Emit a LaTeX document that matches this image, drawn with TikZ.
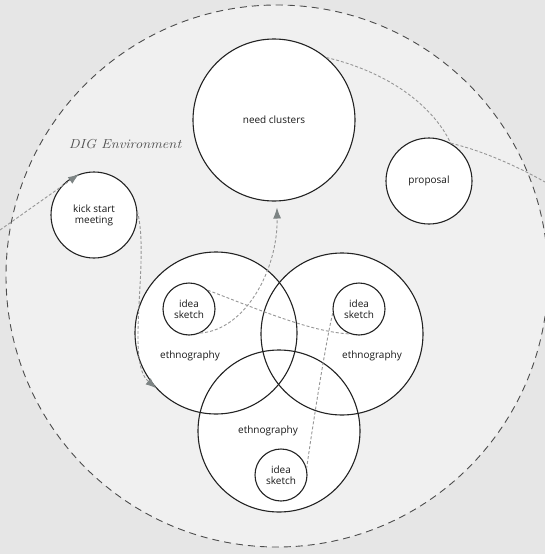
\documentclass[tikz,border=0pt]{standalone}
\usepackage{fontspec}
\setsansfont{Open Sans}
\usetikzlibrary{arrows.meta}

\definecolor{fond}{RGB}{230,230,230}
\definecolor{envfond}{RGB}{240,240,240}
\definecolor{trait}{RGB}{35,35,35}
\definecolor{pointille}{RGB}{150,150,150}
\definecolor{pointe}{RGB}{125,132,132}

\begin{document}
\begin{tikzpicture}[
  x=1pt,y=-1pt,
  >={Latex[length=11pt,width=8pt,color=pointe]},
  bulle/.style={circle,draw=trait,line width=1.1pt,fill=white,inner sep=0pt,
    font=\sffamily\fontsize{10}{11}\selectfont,text=black!90,align=center},
  venn/.style={circle,fill=white,inner sep=0pt,minimum size=162pt},
  contour/.style={draw=trait,line width=1.1pt},
  etiq/.style={font=\sffamily\fontsize{10}{11}\selectfont,text=black!90},
  env/.style={circle,draw=black!70,fill=envfond,line width=0.9pt,
    dash pattern=on 7pt off 5pt,minimum size=542pt,inner sep=0pt},
  lien/.style={draw=pointille,line width=0.9pt,dash pattern=on 3pt off 2pt},
]
  % Cadre
  \useasboundingbox (0,0) rectangle (545,554);
  \fill[fond] (0,0) rectangle (545,554);

  % Environnement
  \node[env] (dig) at (277,276) {};
  \node[font=\itshape\fontsize{13}{13}\selectfont,text=black!70,xscale=1.12]
    (diglbl) at (125,144) {DIG Environment};

  % Bulles du haut
  \node[bulle,minimum size=162pt] (need) at (274,120) {need clusters};
  \node[bulle,minimum size=86pt]  (prop) at (429,181) {proposal};
  \node[bulle,minimum size=86pt]  (kick) at (94,215)  {kick start\\meeting};

  % Ethnographies (remplissage puis contours)
  \node[venn] (ethL) at (216,333) {};
  \node[venn] (ethR) at (342,334) {};
  \node[venn] (ethB) at (279,431) {};
  \foreach \n in {ethL,ethR,ethB}
    \draw[contour] (\n.center) circle[radius=81pt];

  \node[etiq] (lblL) at (190,356) {ethnography};
  \node[etiq] (lblR) at (372,356) {ethnography};
  \node[etiq] (lblB) at (268,431) {ethnography};

  % Esquisses
  \node[bulle,minimum size=52pt] (ideaL) at (189,309) {idea\\sketch};
  \node[bulle,minimum size=52pt] (ideaR) at (359,309) {idea\\sketch};
  \node[bulle,minimum size=52pt] (ideaB) at (281,475) {idea\\sketch};

  % Points libres
  \coordinate (entree) at (0,230);
  \coordinate (sortie) at (545,182);

  % Liens
  \draw[lien,->] (entree) -- (kick.110);
  \draw[lien,->] (kick.5) .. controls (150,260) and (125,362) .. (ethL.223);
  \draw[lien,->,shorten >=6pt] (ideaL.-65) .. controls (245,330) and (278,270) .. (need.-88);
  \draw[lien] (ideaL.45) .. controls (255,308) and (310,332) .. (ideaR.-110);
  \draw[lien] (ideaR.189) .. controls (326,340) and (312,430) .. (ideaB.15);
  \draw[lien] (need.50) .. controls (380,70) and (430,100) .. (prop.60);
  \draw[lien] (prop.60) .. controls (480,150) and (515,165) .. (sortie);
\end{tikzpicture}
\end{document}
